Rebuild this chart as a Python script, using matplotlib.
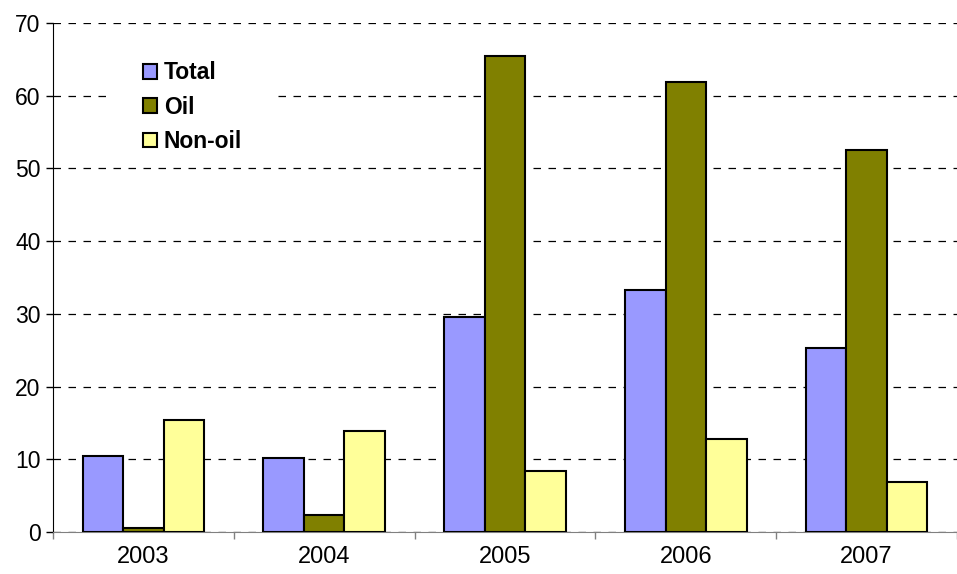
import matplotlib.pyplot as plt
from matplotlib.patches import Rectangle
import numpy as np

plt.rcParams['font.family'] = ['Liberation Sans', 'DejaVu Sans']

years = ['2003', '2004', '2005', '2006', '2007']
total = [10.5, 10.2, 29.6, 33.3, 25.3]
oil = [0.6, 2.4, 65.4, 61.9, 52.6]
non_oil = [15.4, 13.9, 8.4, 12.8, 6.9]

fig = plt.figure(figsize=(9.57, 5.74), dpi=100)
ax = fig.add_axes([53 / 957, 1 - 532 / 574, 1 - 53 / 957, (532 - 23) / 574])

x = np.arange(len(years))
w = 0.224
ax.bar(x - w, total, w, color='#9999FF', edgecolor='black', linewidth=1.5, label='Total', zorder=3)
ax.bar(x, oil, w, color='#808000', edgecolor='black', linewidth=1.5, label='Oil', zorder=3)
ax.bar(x + w, non_oil, w, color='#FFFF99', edgecolor='black', linewidth=1.5, label='Non-oil', zorder=3)

ax.set_ylim(0, 70)
ax.set_yticks(range(0, 71, 10))
ax.set_xlim(-0.5, 4.5 - 12 / 183)

# gridlines
ax.yaxis.grid(True, linestyle=(0, (6, 6)), color='black', linewidth=0.9)
ax.set_axisbelow(True)

# x ticks at category boundaries, labels at centres
ax.set_xticks(np.arange(-0.5, 5.0, 1.0))
ax.set_xticklabels([])
ax.set_xticks(x, minor=True)
ax.set_xticklabels(years, minor=True)
ax.tick_params(axis='x', which='major', length=5, color='#808080', width=1)
ax.tick_params(axis='x', which='minor', length=0, pad=10, labelsize=17)
ax.tick_params(axis='y', length=5, width=1, labelsize=16.5, pad=4)

for s in ['top', 'right']:
    ax.spines[s].set_visible(False)
ax.spines['left'].set_color('black')
ax.spines['bottom'].set_color('#808080')

# white legend area (wider than the legend itself)
ax.add_patch(Rectangle((108 / 957, 1 - 158 / 574), 167 / 957, 130 / 574,
                       transform=fig.transFigure, facecolor='white',
                       edgecolor='none', zorder=2))

leg = ax.legend(loc='upper left', bbox_to_anchor=(0.084, 0.952), borderaxespad=0,
                prop={'weight': 'bold', 'size': 16.5}, frameon=False,
                handlelength=0.62, handleheight=0.62, handletextpad=0.3,
                labelspacing=0.5, borderpad=0.6)
leg.set_zorder(5)

fig.savefig('out.png', dpi=100)
